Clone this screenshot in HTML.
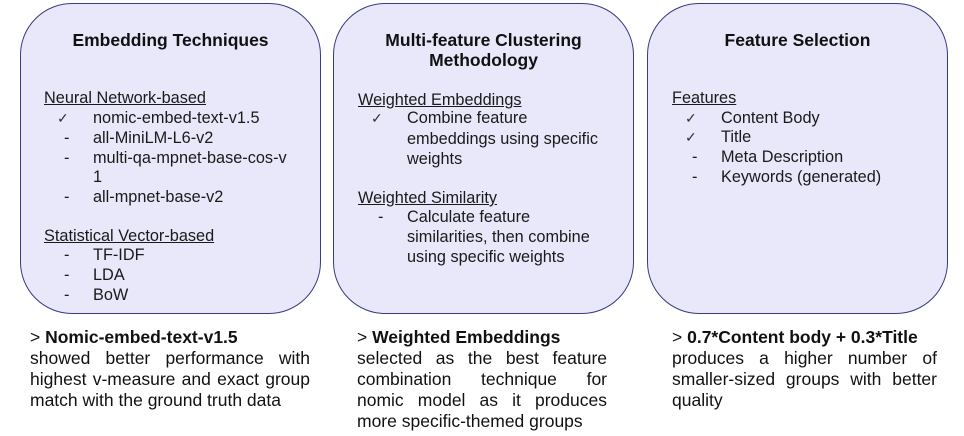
<!DOCTYPE html>
<html><head><meta charset="utf-8"><style>
*{margin:0;padding:0;box-sizing:border-box}
body{width:964px;height:436px;background:#fff;position:relative;font-family:"Liberation Sans",Arial,sans-serif;color:#111;overflow:hidden}
.box{position:absolute;top:3px;width:301px;height:311px;border:1.6px solid #3a3a80;border-radius:52px;background:#e8e8fa}
.t{position:absolute;font-size:16.3px;line-height:20px;height:20px;white-space:nowrap;color:#1a1a1a}
.h{position:absolute;font-size:17.5px;font-weight:bold;line-height:20px;text-align:center;width:301px}
.u{text-decoration:underline}
.c{font-size:14px;color:#333}
.b{position:absolute;font-size:17.5px;line-height:21px;height:21px;white-space:nowrap}
.j{text-align:justify;text-align-last:justify;white-space:normal}
</style></head><body>
<div class="box" style="left:20px"></div>
<div class="box" style="left:333px"></div>
<div class="box" style="left:647px"></div>

<div class="h" style="left:20px;top:30px">Embedding Techniques</div>
<div class="t u" style="left:44px;top:88px">Neural Network-based</div>
<div class="t c" style="left:57px;top:108px">✓</div><div class="t" style="left:93px;top:108px">nomic-embed-text-v1.5</div>
<div class="t" style="left:64px;top:128px">-</div><div class="t" style="left:93px;top:128px">all-MiniLM-L6-v2</div>
<div class="t" style="left:64px;top:148px">-</div><div class="t" style="left:93px;top:148px">multi-qa-mpnet-base-cos-v</div>
<div class="t" style="left:93px;top:167px">1</div>
<div class="t" style="left:64px;top:187px">-</div><div class="t" style="left:93px;top:187px">all-mpnet-base-v2</div>
<div class="t u" style="left:44px;top:226px">Statistical Vector-based</div>
<div class="t" style="left:64px;top:245px">-</div><div class="t" style="left:93px;top:245px">TF-IDF</div>
<div class="t" style="left:64px;top:265px">-</div><div class="t" style="left:93px;top:265px">LDA</div>
<div class="t" style="left:64px;top:285px">-</div><div class="t" style="left:93px;top:285px">BoW</div>

<div class="h" style="left:333px;top:30px">Multi-feature Clustering<br>Methodology</div>
<div class="t u" style="left:358px;top:90px">Weighted Embeddings</div>
<div class="t c" style="left:371px;top:108px">✓</div><div class="t" style="left:407px;top:108px">Combine feature</div>
<div class="t" style="left:407px;top:129px">embeddings using specific</div>
<div class="t" style="left:407px;top:149px">weights</div>
<div class="t u" style="left:358px;top:188px">Weighted Similarity</div>
<div class="t" style="left:378px;top:207px">-</div><div class="t" style="left:407px;top:207px">Calculate feature</div>
<div class="t" style="left:407px;top:227px">similarities, then combine</div>
<div class="t" style="left:407px;top:247px">using specific weights</div>

<div class="h" style="left:647px;top:30px">Feature Selection</div>
<div class="t u" style="left:672px;top:88px">Features</div>
<div class="t c" style="left:685px;top:108px">✓</div><div class="t" style="left:721px;top:108px">Content Body</div>
<div class="t c" style="left:685px;top:127px">✓</div><div class="t" style="left:721px;top:127px">Title</div>
<div class="t" style="left:692px;top:147px">-</div><div class="t" style="left:721px;top:147px">Meta Description</div>
<div class="t" style="left:692px;top:167px">-</div><div class="t" style="left:721px;top:167px">Keywords (generated)</div>

<div class="b" style="left:30px;top:327px">&gt; <b>Nomic-embed-text-v1.5</b></div>
<div class="b j" style="left:30px;top:348px;width:280px">showed better performance with</div>
<div class="b j" style="left:30px;top:369px;width:280px">highest v-measure and exact group</div>
<div class="b" style="left:30px;top:390px">match with the ground truth data</div>

<div class="b" style="left:357px;top:327px">&gt; <b>Weighted Embeddings</b></div>
<div class="b j" style="left:357px;top:348px;width:250px">selected as the best feature</div>
<div class="b j" style="left:357px;top:369px;width:250px">combination technique for</div>
<div class="b j" style="left:357px;top:390px;width:250px">nomic model as it produces</div>
<div class="b" style="left:357px;top:411px">more specific-themed groups</div>

<div class="b" style="left:672px;top:327px">&gt; <b>0.7*Content body + 0.3*Title</b></div>
<div class="b j" style="left:672px;top:348px;width:265px">produces a higher number of</div>
<div class="b j" style="left:672px;top:369px;width:265px">smaller-sized groups with better</div>
<div class="b" style="left:672px;top:390px">quality</div>
</body></html>
